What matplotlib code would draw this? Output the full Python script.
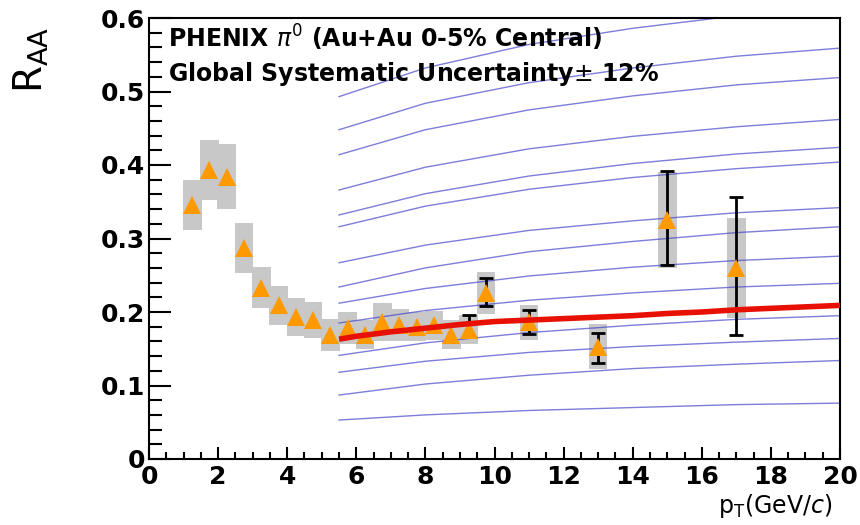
import matplotlib.pyplot as plt
import numpy as np

plt.rcParams['font.family'] = 'DejaVu Sans'
plt.rcParams['mathtext.fontset'] = 'dejavusans'

# PHENIX pi0 R_AA, Au+Au 0-5% central
pt = np.array([1.25, 1.75, 2.25, 2.75, 3.25, 3.75, 4.25, 4.75, 5.25, 5.75, 6.25,
               6.75, 7.25, 7.75, 8.25, 8.75, 9.25, 9.75, 11.0, 13.0, 15.0, 17.0])
raa = np.array([0.346, 0.393, 0.384, 0.287, 0.233, 0.209, 0.193, 0.189, 0.169, 0.178, 0.169,
                0.186, 0.182, 0.180, 0.182, 0.169, 0.176, 0.226, 0.186, 0.153, 0.325, 0.260])
sys_err = np.array([0.034, 0.041, 0.044, 0.034, 0.028, 0.027, 0.026, 0.024, 0.022, 0.022, 0.020,
                    0.026, 0.022, 0.020, 0.020, 0.020, 0.020, 0.029, 0.024, 0.030, 0.065, 0.068])
stat_lo = np.array([0, 0, 0, 0, 0, 0, 0, 0, 0, 0, 0,
                    0, 0, 0, 0, 0, 0.010, 0.018, 0.016, 0.023, 0.061, 0.091])
stat_hi = np.array([0, 0, 0, 0, 0, 0, 0, 0, 0, 0, 0,
                    0, 0, 0, 0, 0, 0.020, 0.020, 0.017, 0.018, 0.067, 0.097])

# model curves (different medium densities)
curve_pt = [5.5, 8, 11, 14, 17, 20]
curves = [
    [0.493, 0.532, 0.564, 0.586, 0.603, 0.615],
    [0.448, 0.484, 0.512, 0.532, 0.548, 0.559],
    [0.414, 0.448, 0.475, 0.494, 0.509, 0.519],
    [0.366, 0.397, 0.422, 0.439, 0.452, 0.462],
    [0.332, 0.361, 0.385, 0.402, 0.415, 0.424],
    [0.316, 0.344, 0.367, 0.383, 0.395, 0.404],
    [0.267, 0.291, 0.311, 0.324, 0.335, 0.342],
    [0.234, 0.260, 0.282, 0.296, 0.308, 0.316],
    [0.212, 0.232, 0.249, 0.261, 0.270, 0.276],
    [0.185, 0.202, 0.216, 0.226, 0.234, 0.239],
    [0.141, 0.158, 0.172, 0.182, 0.190, 0.195],
    [0.118, 0.133, 0.145, 0.153, 0.159, 0.164],
    [0.087, 0.102, 0.114, 0.123, 0.129, 0.134],
    [0.053, 0.060, 0.066, 0.070, 0.074, 0.076],
]

# best fit curve
fit_pt = [5.5, 6, 7, 8, 9, 10, 11, 12, 13, 14, 15, 16, 17, 18, 19, 20]
fit_raa = [0.163, 0.167, 0.173, 0.178, 0.183, 0.187, 0.189, 0.191, 0.193, 0.195,
           0.198, 0.200, 0.203, 0.205, 0.207, 0.209]

x_ticks = [0, 2, 4, 6, 8, 10, 12, 14, 16, 18, 20]
y_ticks = [0, 0.1, 0.2, 0.3, 0.4, 0.5, 0.6]
y_ticklabels = ['0', '0.1', '0.2', '0.3', '0.4', '0.5', '0.6']

fig = plt.figure(figsize=(8.6, 5.25), dpi=100)
ax = fig.add_axes([149 / 860, 66 / 525, 691 / 860, 441 / 525])

# systematic boxes
ax.bar(pt, 2 * sys_err, bottom=raa - sys_err, width=0.54, color='#c8c8c8',
       linewidth=0, zorder=1)

for c in curves:
    ax.plot(curve_pt, c, color='#4646cc', lw=1.0, alpha=0.7, zorder=2)

has_stat = (stat_lo + stat_hi) > 0
ax.errorbar(pt[has_stat], raa[has_stat], yerr=[stat_lo[has_stat], stat_hi[has_stat]],
            fmt='none', ecolor='black', elinewidth=2, capsize=5, capthick=2, zorder=3)
ax.plot(pt, raa, '^', color='#ff9900', ms=13.5, mew=0, zorder=4)
ax.plot(fit_pt, fit_raa, color='#e81000', lw=4, zorder=5, solid_capstyle='butt')

ax.set_xlim(0, 20)
ax.set_ylim(0, 0.6)
ax.set_xticks(x_ticks)
ax.set_xticks(np.arange(0, 20.01, 0.5), minor=True)
ax.set_yticks(y_ticks)
ax.set_yticklabels(y_ticklabels)
ax.set_yticks(np.arange(0, 0.601, 0.02), minor=True)

ax.tick_params(direction='in', which='both', top=False, right=False, width=1.5)
ax.tick_params(axis='y', which='major', length=16, pad=3)
ax.tick_params(axis='y', which='minor', length=9.5)
ax.tick_params(axis='x', which='major', length=8.5, pad=4)
ax.tick_params(axis='x', which='minor', length=5)
for lab in ax.get_xticklabels() + ax.get_yticklabels():
    lab.set_fontsize(18)
    lab.set_fontweight('bold')
for s in ax.spines.values():
    s.set_linewidth(1.5)

ax.text(0.028, 0.956, r'PHENIX $\pi^{0}$ (Au+Au 0-5% Central)', transform=ax.transAxes,
        fontsize=17, fontweight='bold', ha='left', va='center')
ax.text(0.028, 0.872, r'Global Systematic Uncertainty$\pm$ 12%', transform=ax.transAxes,
        fontsize=17, fontweight='bold', ha='left', va='center')

fig.text(0.037, 1 - 60 / 525, r'R$_{\mathrm{AA}}$', rotation=90, ha='center', va='center',
         fontsize=28)
fig.text(832 / 860, 1 - 506 / 525, r'p$_{\mathrm{T}}$(GeV/$c$)', ha='right', va='center',
         fontsize=17)

fig.savefig('out.png', dpi=100)
